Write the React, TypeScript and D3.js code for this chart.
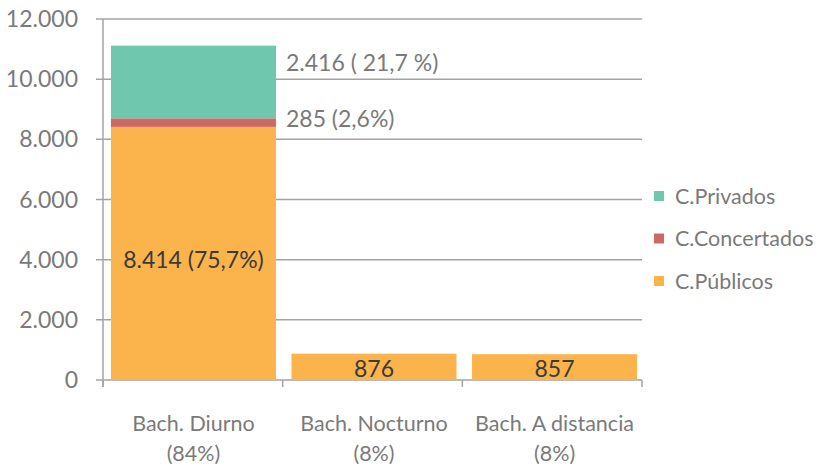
import React from "react";
import * as d3 from "d3";

// datos
const categorias = ["Bach. Diurno", "Bach. Nocturno", "Bach. A distancia"];
const porcentajesCat = ["(84%)", "(8%)", "(8%)"];
const series = ["C.Públicos", "C.Concertados", "C.Privados"];
const publicos = [8414, 876, 857];
const concertados = [285, 0, 0];
const privados = [2416, 0, 0];
const etiquetasPublicos = ["8.414 (75,7%)", "876", "857"];
const etiquetaConcertados = "285 (2,6%)";
const etiquetaPrivados = "2.416 ( 21,7 %)";
const ticksY = [0, 2000, 4000, 6000, 8000, 10000, 12000];

const colores: Record<string, string> = {
  "C.Públicos": "#FBB34C",
  "C.Concertados": "#CC6A62",
  "C.Privados": "#6FC8AE",
};

const width = 819;
const height = 467;
const margin = { top: 19, right: 177, bottom: 87, left: 103 };
const innerW = width - margin.left - margin.right;
const innerH = height - margin.top - margin.bottom;

const locale = d3.formatLocale({ decimal: ",", thousands: ".", grouping: [3], currency: ["", "€"] });
const fmt = locale.format(",");

const FONT = "Lato, 'Open Sans', sans-serif";
const GRIS = "#7a7a7a";
const LINEA = "#a3a3a3";

export default function App() {
  const x = d3.scaleBand().domain(categorias).range([0, 542]).paddingInner(0.086).paddingOuter(0.044);
  const y = d3.scaleLinear().domain([0, 12000]).range([innerH, 0]);

  const tabla = categorias.map((c, i) => ({
    cat: c,
    "C.Públicos": publicos[i],
    "C.Concertados": concertados[i],
    "C.Privados": privados[i],
  }));
  const stack = d3.stack<any>().keys(series)(tabla);

  const bordes = categorias.map((_, i) => i * (innerW / categorias.length)).concat([innerW]);

  const leyenda = [...series].reverse();
  const xEtiqueta = (x(categorias[0]) ?? 0) + x.bandwidth() + 10;

  return (
    <svg width={width} height={height} style={{ position: "absolute", left: 0, top: 0, fontFamily: FONT }}>
      <rect width={width} height={height} fill="#fff" />
      <g transform={`translate(${margin.left},${margin.top})`}>
        {ticksY.map((t) => (
          <g key={t} transform={`translate(0,${y(t)})`}>
            <line x1={-7} x2={innerW} stroke={LINEA} strokeWidth={1.5} />
            <text x={-25} dy="0.35em" textAnchor="end" fontSize={23} fill={GRIS}>
              {fmt(t)}
            </text>
          </g>
        ))}
        <line x1={0} x2={0} y1={0} y2={innerH + 7} stroke={LINEA} strokeWidth={1.5} />
        {bordes.map((b, i) => (
          <line key={i} x1={b} x2={b} y1={innerH} y2={innerH + 7} stroke={LINEA} strokeWidth={1.5} />
        ))}

        {stack.map((s) => (
          <g key={s.key} fill={colores[s.key]}>
            {s.map((d, i) =>
              d[1] - d[0] > 0 ? (
                <rect
                  key={i}
                  x={x(categorias[i])}
                  y={y(d[1])}
                  width={x.bandwidth()}
                  height={y(d[0]) - y(d[1])}
                />
              ) : null
            )}
          </g>
        ))}

        {categorias.map((c, i) => (
          <text
            key={c}
            x={(x(c) ?? 0) + x.bandwidth() / 2}
            y={i === 0 ? y(publicos[i] / 2) + 7 : y(publicos[i] / 2) + 2}
            dy="0.35em"
            textAnchor="middle"
            fontSize={23}
            fill="#3a3a3a"
          >
            {etiquetasPublicos[i]}
          </text>
        ))}

        <text
          x={xEtiqueta}
          y={y(publicos[0] + concertados[0] + privados[0]) + 17}
          dy="0.35em"
          fontSize={23}
          fill={GRIS}
        >
          {etiquetaPrivados}
        </text>
        <text x={xEtiqueta} y={y(publicos[0] + concertados[0]) + 1} dy="0.35em" fontSize={23} fill={GRIS}>
          {etiquetaConcertados}
        </text>

        {categorias.map((c, i) => (
          <text key={c} textAnchor="middle" fontSize={21.5} fill={GRIS}>
            <tspan x={(x(c) ?? 0) + x.bandwidth() / 2} y={innerH + 51}>
              {c}
            </tspan>
            <tspan x={(x(c) ?? 0) + x.bandwidth() / 2} y={innerH + 81}>
              {porcentajesCat[i]}
            </tspan>
          </text>
        ))}

        {leyenda.map((s, i) => (
          <g key={s} transform={`translate(${innerW + 12},${177 + i * 42.5})`}>
            <rect x={0} y={-5} width={10} height={10} fill={colores[s]} />
            <text x={21} dy="0.35em" fontSize={21.5} fill={GRIS}>
              {s}
            </text>
          </g>
        ))}
      </g>
    </svg>
  );
}
